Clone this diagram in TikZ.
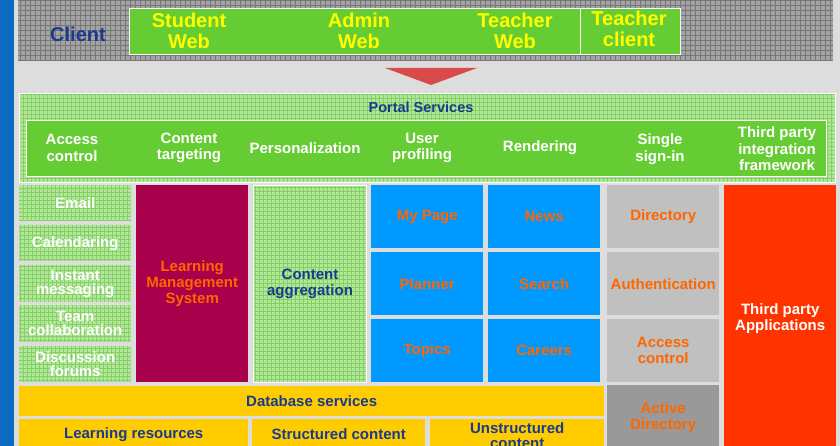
\documentclass[tikz,border=0pt]{standalone}
\usepackage{fontspec}
\setmainfont{Liberation Sans}
\usepackage{xcolor}
\usepackage{tikz}
\usetikzlibrary{positioning}

\definecolor{stripblue}{HTML}{0A6BC0}
\definecolor{backgrey}{HTML}{DDDDDD}
\definecolor{bandgrey}{HTML}{A3A3A3}
\definecolor{bandline}{HTML}{777777}
\definecolor{clientgreen}{HTML}{66CC33}
\definecolor{labelyellow}{HTML}{FFFF00}
\definecolor{navy}{HTML}{1A3A8F}
\definecolor{patgreen}{HTML}{B4E59C}
\definecolor{patline}{HTML}{82D262}
\definecolor{lmsred}{HTML}{A8004A}
\definecolor{tileorange}{HTML}{FF6600}
\definecolor{tileblue}{HTML}{0099FF}
\definecolor{tilegrey}{HTML}{C0C0C0}
\definecolor{adgrey}{HTML}{999999}
\definecolor{thirdred}{HTML}{FF3300}
\definecolor{dbyellow}{HTML}{FFCC00}
\definecolor{arrowred}{HTML}{D94A4A}

\begin{document}
\begin{tikzpicture}[x=1 pt, y=-1 pt, font=\bfseries\fontsize{15}{16}\selectfont]
\tikzstyle{block} = [rectangle, anchor=north west, inner sep=0 pt, align=center, text centered]
\tikzstyle{gridbox} = [block, fill=patgreen, path picture={\draw [patline, line width=0.5 pt] (path picture bounding box.south west) grid[step=4 pt] (path picture bounding box.north east);}]
\tikzstyle{greenbar} = [block, fill=clientgreen, draw=white, line width=1 pt]
\tikzstyle{bluetile} = [block, fill=tileblue, text=tileorange, minimum width=112 pt, minimum height=63 pt]
\tikzstyle{greytile} = [block, fill=tilegrey, text=tileorange, minimum width=112 pt, minimum height=63 pt]
\tikzstyle{small} = [gridbox, text=white, minimum width=112 pt, minimum height=36 pt, font=\bfseries\fontsize{15}{14}\selectfont]
\tikzstyle{dbbox} = [block, fill=dbyellow, text=navy]
\tikzstyle{webtext} = [text=labelyellow, align=center, font=\bfseries\fontsize{20}{21.5}\selectfont]
\tikzstyle{service} = [text=white, align=center, font=\bfseries\fontsize{15}{16.5}\selectfont]

\useasboundingbox (0,0) rectangle (840,446);
\fill [backgrey] (0,0) rectangle (840,446);
\fill [stripblue] (0,0) rectangle (14,446);

% client band
\node (band) [block, fill=bandgrey, minimum width=815 pt, minimum height=60 pt, path picture={\draw [bandline, line width=0.6 pt] (path picture bounding box.south west) grid[step=5 pt] (path picture bounding box.north east);}] at (18,0) {};
\node (client) [text=navy, font=\bfseries\fontsize{20}{22}\selectfont] at (78,34) {Client};
\node (web) [greenbar, minimum width=451 pt, minimum height=46 pt] at (129,8) {};
\node (tclient) [greenbar, minimum width=100 pt, minimum height=46 pt] at (580,8) {};
\node (sweb) [webtext] at (189,31) {Student\\Web};
\node (aweb) [webtext] at (359,31) {Admin\\Web};
\node (tweb) [webtext] at (515,31) {Teacher\\Web};
\node (tcl)  [webtext] at (629,29) {Teacher\\client};

\fill [arrowred] (385,68) -- (477,68) -- (431,85) -- cycle;

% portal services
\node (portal) [gridbox, draw=white, line width=1 pt, minimum width=816 pt, minimum height=89 pt] at (19,93) {};
\node (ptitle) [text=navy, font=\bfseries\fontsize{14.5}{16}\selectfont] at (421,107) {Portal Services};
\node (pbar) [greenbar, minimum width=800 pt, minimum height=56 pt] at (26,120) {};
\node (acc)  [service] at (72,148)  {Access\\control};
\node (targ) [service] at (189,148) {Content\\targeting};
\node (pers) [service] at (305,148) {Personalization};
\node (prof) [service] at (422,148) {User\\profiling};
\node (rend) [service] at (540,148) {Rendering};
\node (sso)  [service] at (660,149) {Single\\sign-in};
\node (tpi)  [service] at (777,149) {Third party\\integration\\framework};

% collaboration column
\node (email) [small] at (19,185) {Email};
\node (cal)   [small] at (19,225) {Calendaring};
\node (im)    [small, minimum height=37 pt] at (19,265) {Instant\\messaging};
\node (team)  [small, minimum height=37 pt] at (19,305) {Team\\collaboration};
\node (forum) [small] at (19,346) {Discussion\\forums};

\node (lms) [block, fill=lmsred, text=tileorange, minimum width=112 pt, minimum height=197 pt] at (136,185) {Learning\\Management\\System};
\node (agg) [gridbox, draw=white, line width=1 pt, text=navy, minimum width=113 pt, minimum height=197 pt] at (253,185) {Content\\aggregation};

% portlets
\node (mypage)  [bluetile] at (371,185) {My Page};
\node (news)    [bluetile] at (488,185) {News};
\node (planner) [bluetile] at (371,252) {Planner};
\node (search)  [bluetile] at (488,252) {Search};
\node (topics)  [bluetile] at (371,319) {Topics};
\node (careers) [bluetile] at (488,319) {Careers};

\node (dir)  [greytile] at (607,185) {Directory};
\node (auth) [greytile] at (607,252) {Authentication};
\node (ctrl) [greytile] at (607,319) {Access\\control};
\node (ad)   [block, fill=adgrey, text=tileorange, minimum width=112 pt, minimum height=64 pt] at (607,385) {Active\\Directory};

\node (apps) [block, fill=thirdred, text=white, minimum width=112 pt, minimum height=266 pt] at (724,185) {Third party\\Applications};

% database layer
\node (db)    [dbbox, minimum width=585 pt, minimum height=30 pt] at (19,386) {Database services};
\node (learn) [dbbox, minimum width=229 pt, minimum height=30 pt] at (19,419) {Learning resources};
\node (struc) [dbbox, minimum width=173 pt, minimum height=30 pt] at (252,419) {Structured content};
\node (unst)  [dbbox, minimum width=174 pt, minimum height=32 pt, font=\bfseries\fontsize{15}{15}\selectfont] at (430,419) {Unstructured\\content};

\end{tikzpicture}
\end{document}
